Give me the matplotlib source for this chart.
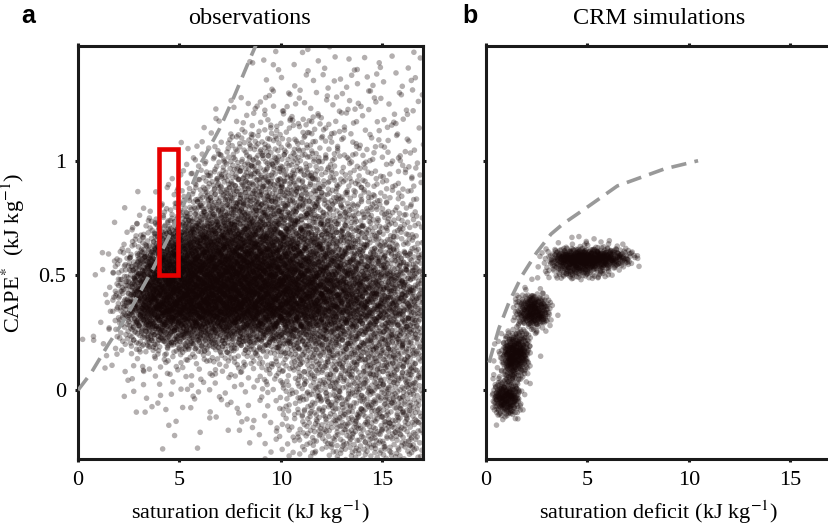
import numpy as np
import matplotlib
matplotlib.use("Agg")
import matplotlib.pyplot as plt
from matplotlib.patches import Rectangle

plt.rcParams["font.family"] = ["Liberation Serif", "DejaVu Serif"]
plt.rcParams["mathtext.fontset"] = "stix"
plt.rcParams["lines.scale_dashes"] = False

# ---------------- data ----------------
# Panel a: approximate number of observations per cell (rows listed top -> bottom)
obs_x_edges = [0, 1, 2, 3, 4, 5, 6, 7, 8, 9, 10, 11, 12, 13, 14, 15, 16, 17]
obs_y_edges = [-0.3, -0.2, -0.1, 0.0, 0.1, 0.2, 0.3, 0.4, 0.5, 0.6, 0.7,
               0.8, 0.9, 1.0, 1.1, 1.2, 1.3, 1.4, 1.5]
obs_counts = [
    [0, 0, 0, 0, 0, 0, 0, 0, 1, 2, 2, 3, 2, 3, 2, 3, 3],              # 1.4-1.5
    [0, 0, 0, 0, 0, 0, 0, 0, 2, 3, 3, 4, 4, 4, 4, 3, 4],              # 1.3-1.4
    [0, 0, 0, 0, 0, 0, 0, 2, 4, 5, 6, 6, 5, 5, 5, 4, 5],              # 1.2-1.3
    [0, 0, 0, 0, 0, 0, 2, 5, 10, 12, 12, 11, 9, 7, 6, 5, 5],          # 1.1-1.2
    [0, 0, 0, 0, 0, 3, 8, 16, 22, 23, 21, 17, 13, 10, 8, 6, 6],       # 1.0-1.1
    [0, 0, 0, 0, 2, 7, 18, 32, 38, 38, 34, 27, 20, 15, 12, 9, 8],     # 0.9-1.0
    [0, 0, 0, 1, 6, 18, 36, 50, 54, 52, 46, 38, 30, 22, 17, 13, 10],  # 0.8-0.9
    [0, 0, 2, 8, 22, 48, 68, 76, 78, 72, 62, 50, 40, 32, 25, 19, 14], # 0.7-0.8
    [0, 1, 8, 35, 100, 140, 150, 150, 145, 130, 105, 82, 64, 50, 38, 29, 22],
    [0, 3, 30, 110, 190, 210, 210, 210, 200, 185, 160, 130, 105, 82, 65, 52, 42],
    [0, 3, 55, 170, 220, 230, 230, 230, 220, 210, 195, 170, 140, 118, 96, 76, 60],
    [0, 4, 60, 180, 220, 230, 230, 225, 215, 200, 185, 162, 138, 116, 96, 78, 64],
    [1, 3, 30, 70, 90, 95, 95, 92, 90, 88, 86, 80, 72, 66, 60, 54, 48],  # 0.2-0.3
    [1, 2, 6, 10, 12, 14, 15, 16, 18, 20, 28, 36, 40, 42, 44, 44, 42],   # 0.1-0.2
    [0, 1, 3, 4, 5, 5, 6, 7, 9, 10, 16, 28, 34, 36, 38, 38, 36],        # 0.0-0.1
    [0, 0, 2, 3, 3, 3, 4, 4, 5, 6, 14, 26, 32, 34, 36, 36, 34],         # -0.1-0.0
    [0, 0, 0, 1, 2, 2, 2, 2, 3, 4, 12, 22, 28, 30, 32, 32, 30],         # -0.2--0.1
    [0, 0, 0, 1, 0, 1, 1, 1, 2, 3, 8, 16, 22, 26, 28, 28, 28],          # -0.3--0.2
]

# Panel b: approximate number of CRM points per cell (rows listed top -> bottom)
crm_x_edges = [0, 0.5, 1, 1.5, 2, 2.5, 3, 3.5, 4, 4.5, 5, 5.5, 6, 6.5, 7, 7.5, 8]
crm_y_edges = [-0.15, -0.1, -0.05, 0.0, 0.05, 0.1, 0.15, 0.2, 0.25, 0.3,
               0.35, 0.4, 0.45, 0.5, 0.55, 0.6, 0.65, 0.7]
crm_counts = [
    [0, 0, 0, 0, 0, 0, 0, 0, 0, 1, 0, 0, 0, 0, 0, 0],          # 0.65-0.70
    [0, 0, 0, 0, 0, 0, 0, 2, 4, 5, 5, 4, 3, 2, 0, 0],          # 0.60-0.65
    [0, 0, 0, 0, 0, 3, 20, 60, 85, 90, 88, 80, 62, 32, 8, 1],  # 0.55-0.60
    [0, 0, 0, 0, 0, 1, 7, 24, 38, 38, 26, 14, 5, 1, 0, 0],     # 0.50-0.55
    [0, 0, 0, 0, 1, 1, 0, 0, 0, 0, 0, 0, 0, 0, 0, 0],          # 0.45-0.50
    [0, 0, 0, 2, 3, 2, 0, 0, 0, 0, 0, 0, 0, 0, 0, 0],          # 0.40-0.45
    [0, 0, 0, 20, 60, 36, 1, 0, 0, 0, 0, 0, 0, 0, 0, 0],       # 0.35-0.40
    [0, 0, 0, 26, 72, 50, 2, 0, 0, 0, 0, 0, 0, 0, 0, 0],       # 0.30-0.35
    [0, 0, 1, 5, 10, 6, 0, 0, 0, 0, 0, 0, 0, 0, 0, 0],         # 0.25-0.30
    [0, 2, 26, 30, 2, 0, 0, 0, 0, 0, 0, 0, 0, 0, 0, 0],        # 0.20-0.25
    [0, 6, 68, 60, 2, 0, 0, 0, 0, 0, 0, 0, 0, 0, 0, 0],        # 0.15-0.20
    [0, 6, 72, 45, 0, 0, 0, 0, 0, 0, 0, 0, 0, 0, 0, 0],        # 0.10-0.15
    [0, 3, 36, 14, 0, 0, 0, 0, 0, 0, 0, 0, 0, 0, 0, 0],        # 0.05-0.10
    [0, 20, 20, 2, 0, 0, 0, 0, 0, 0, 0, 0, 0, 0, 0, 0],        # 0.00-0.05
    [1, 68, 68, 5, 0, 0, 0, 0, 0, 0, 0, 0, 0, 0, 0, 0],        # -0.05-0.00
    [0, 38, 38, 2, 0, 0, 0, 0, 0, 0, 0, 0, 0, 0, 0, 0],        # -0.10--0.05
    [0, 2, 2, 0, 0, 0, 0, 0, 0, 0, 0, 0, 0, 0, 0, 0],          # -0.15--0.10
]

# dashed curves
obs_curve_x = [0.0, 0.64, 1.47, 2.38, 3.7, 4.6, 5.45, 6.04, 6.98, 7.67, 8.5, 8.9]
obs_curve_y = [0.0, 0.074, 0.196, 0.32, 0.53, 0.69, 0.856, 0.987, 1.14, 1.275, 1.45, 1.53]
crm_curve_x = [0.15, 0.64, 1.14, 1.78, 2.5, 3.2, 3.8, 4.98, 6.47, 8.78, 10.45]
crm_curve_y = [0.12, 0.27, 0.384, 0.5, 0.60, 0.68, 0.725, 0.797, 0.89, 0.964, 1.0]

# highlighted box in panel a: x0, y0, width, height
box = [4.0, 0.5, 0.93, 0.55]

x_ticks = [0, 5, 10, 15]
x_ticklabels = ["0", "5", "10", "15"]
y_ticks = [0, 0.5, 1]
y_ticklabels = ["0", "0.5", "1"]


def _radical_inverse(i, base):
    f, r = 1.0, 0.0
    while i > 0:
        f /= base
        r += f * (i % base)
        i //= base
    return r


def _tent(u):
    u = np.asarray(u)
    return np.where(u < 0.5, np.sqrt(2 * u) - 1, 1 - np.sqrt(2 - 2 * u))


def cell_points(counts, x_edges, y_edges):
    """Spread the counted points of each cell deterministically (Halton + tent kernel)."""
    xs, ys = [], []
    nrows = len(counts)
    for r, row in enumerate(counts):
        y0, y1 = y_edges[nrows - 1 - r], y_edges[nrows - r]
        for c, n in enumerate(row):
            if n == 0:
                continue
            x0, x1 = x_edges[c], x_edges[c + 1]
            start = 1 + (r * 389 + c * 211) % 4096
            u = np.array([_radical_inverse(start + k, 2) for k in range(n)])
            v = np.array([_radical_inverse(start + k, 3) for k in range(n)])
            xs.append(0.5 * (x0 + x1) + _tent(u) * (x1 - x0))
            ys.append(0.5 * (y0 + y1) + _tent(v) * (y1 - y0))
    return np.concatenate(xs), np.concatenate(ys)


W, H = 829, 532
fig = plt.figure(figsize=(W / 100, H / 100), dpi=100)

ax_l, ax_w = 78 / W, 345 / W
ax_b, ax_h = (H - 459) / H, 413 / H
axa = fig.add_axes([ax_l, ax_b, ax_w, ax_h])
axb = fig.add_axes([486 / W, ax_b, ax_w, ax_h])

pt_color = "#140606"
ms = 16
alpha = 0.32

xa, ya = cell_points(obs_counts, obs_x_edges, obs_y_edges)
axa.scatter(xa, ya, s=ms, c=pt_color, alpha=alpha, edgecolors="none", zorder=2)
axa.plot(obs_curve_x, obs_curve_y, color="#999999", lw=2.6, dashes=(11, 6), zorder=3)
axa.add_patch(Rectangle((box[0], box[1]), box[2], box[3], fill=False,
                        edgecolor="#e60000", lw=3.3, zorder=4))

xb, yb = cell_points(crm_counts, crm_x_edges, crm_y_edges)
axb.scatter(xb, yb, s=ms, c=pt_color, alpha=alpha, edgecolors="none", zorder=2)
axb.plot(crm_curve_x, crm_curve_y, color="#999999", lw=2.6, dashes=(11, 6), zorder=3)

for ax in (axa, axb):
    ax.set_xlim(0, 17)
    ax.set_ylim(-0.3, 1.5)
    ax.set_xticks(x_ticks)
    ax.set_xticklabels(x_ticklabels)
    ax.set_yticks(y_ticks)
    for sp in ax.spines.values():
        sp.set_linewidth(2.2)
        sp.set_color("#1a1a1a")
    ax.tick_params(direction="out", length=2.5, width=2.2, color="#1a1a1a",
                   labelsize=16, pad=6, top=True)
    ax.set_xlabel("saturation deficit (kJ kg$^{-1}$)", fontsize=16, labelpad=6)

axa.set_yticklabels(y_ticklabels)
axa.tick_params(right=True)
axa.set_ylabel("CAPE$^{*}$  (kJ kg$^{-1}$)", fontsize=16, labelpad=8)

axb.set_yticklabels([])
axb.spines["right"].set_visible(False)

fig.text(250 / W, 1 - 18 / H, "observations", fontsize=17.5, ha="center", va="center")
fig.text(659 / W, 1 - 18 / H, "CRM simulations", fontsize=17.5, ha="center", va="center")
fig.text(28 / W, 1 - 16 / H, "a", fontsize=18, fontweight="bold",
         family=["Liberation Sans", "DejaVu Sans"], ha="center", va="center")
fig.text(470 / W, 1 - 16 / H, "b", fontsize=18, fontweight="bold",
         family=["Liberation Sans", "DejaVu Sans"], ha="center", va="center")

fig.savefig("out.png", dpi=100)
